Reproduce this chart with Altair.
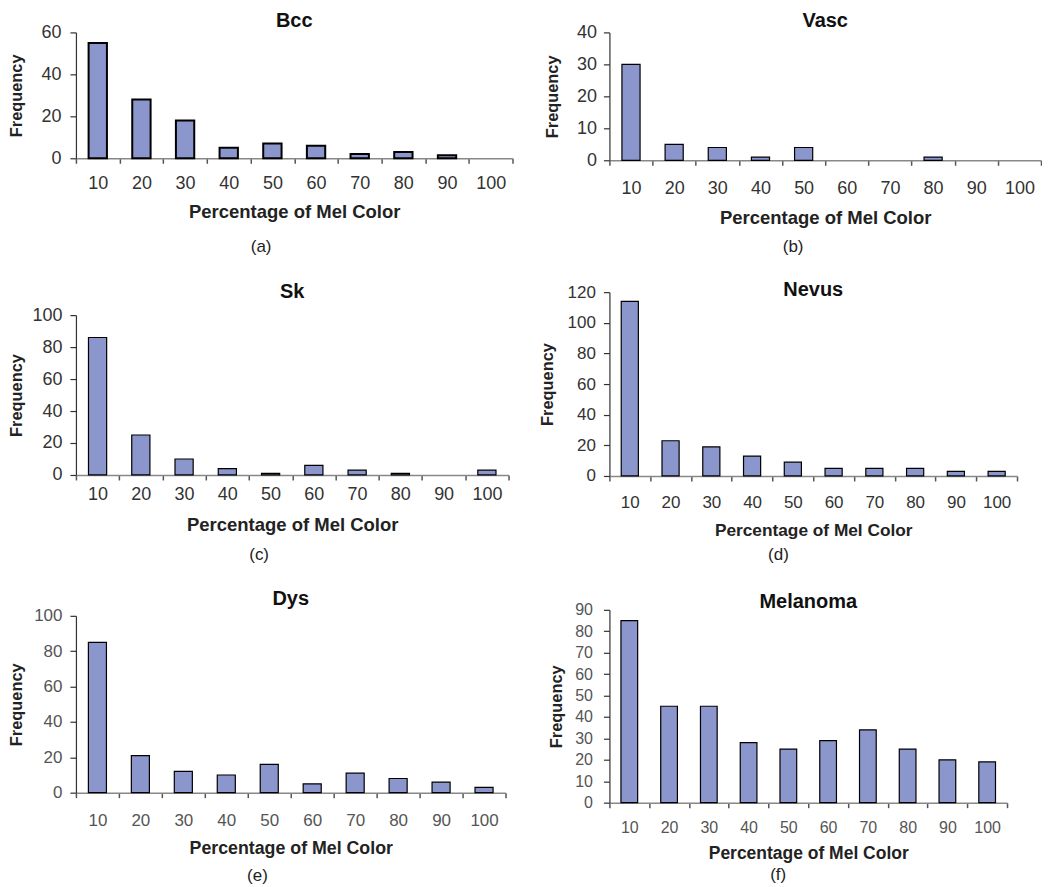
import altair as alt
import pandas as pd

cats = ["10", "20", "30", "40", "50", "60", "70", "80", "90", "100"]
bcc = [55, 28, 18, 5, 7, 6, 2, 3, 1.5, 0]
vasc = [30, 5, 4, 1, 4, 0, 0, 1, 0, 0]
sk = [86, 25, 10, 4, 1, 6, 3, 1, 0, 3]
nevus = [114, 23, 19, 13, 9, 5, 5, 5, 3, 3]
dys = [85, 21, 12, 10, 16, 5, 11, 8, 6, 3]
melanoma = [85, 45, 45, 28, 25, 29, 34, 25, 20, 19]

FONT = "Liberation Sans"
FILL = "#8b96cd"


def panel(title, caption, vals, ymax, ystep, w, h, stroke_w=1.2,
          label_size=18, label_color="#333333", ylab_pad=8, ytitle_pad=12,
          xlab_pad=12, xtitle_size=18.5, xtitle_pad=11, cap_offset=10,
          title_offset=0):
    df = pd.DataFrame({"pct": cats, "freq": vals})
    x = alt.X(
        "pct:N",
        sort=cats,
        scale=alt.Scale(domain=cats, paddingInner=0, paddingOuter=0),
        axis=alt.Axis(
            title="Percentage of Mel Color",
            tickBand="extent",
            labelAngle=0,
            labelFont=FONT,
            labelFontSize=label_size,
            labelColor=label_color,
            labelPadding=xlab_pad,
            titleFont=FONT,
            titleFontSize=xtitle_size,
            titleFontWeight="bold",
            titleColor="#222222",
            titlePadding=xtitle_pad,
            domainColor="#888888",
            domainWidth=1.5,
            tickColor="#555555",
            tickSize=5,
            tickWidth=1.5,
        ),
    )
    y = alt.Y(
        "freq:Q",
        scale=alt.Scale(domain=[0, ymax], nice=False),
        axis=alt.Axis(
            title="Frequency",
            values=list(range(0, ymax + 1, ystep)),
            grid=False,
            labelFont=FONT,
            labelFontSize=label_size,
            labelColor=label_color,
            labelPadding=ylab_pad,
            titleFont=FONT,
            titleFontSize=16.4,
            titleFontWeight="bold",
            titleColor="#222222",
            titlePadding=ytitle_pad,
            domainColor="#333333",
            domainWidth=1.2,
            tickColor="#333333",
            tickSize=6,
            tickWidth=1.2,
        ),
    )
    ch = (
        alt.Chart(df)
        .transform_filter("datum.freq > 0")
        .mark_bar(fill=FILL, stroke="black", strokeWidth=stroke_w,
                  width=alt.RelativeBandSize(0.42))
        .encode(x=x, y=y)
        .properties(
            width=w,
            height=h,
            title=alt.TitleParams(
                title, font=FONT, fontSize=20, fontWeight="bold",
                color="#111111", offset=title_offset, anchor="middle",
            ),
        )
    )
    return alt.vconcat(
        ch,
        title=alt.TitleParams(
            caption, orient="bottom", font=FONT, fontSize=17,
            fontWeight="normal", color="#222222", offset=cap_offset,
            anchor="middle",
        ),
    )


a = panel("Bcc", "(a)", bcc, 60, 20, 437, 126, stroke_w=2,
          ylab_pad=9, ytitle_pad=16, xlab_pad=11, xtitle_pad=10,
          cap_offset=18, title_offset=-8)
b = panel("Vasc", "(b)", vasc, 40, 10, 432, 128,
          ylab_pad=7, ytitle_pad=16, xlab_pad=14, xtitle_pad=11,
          cap_offset=12, title_offset=-8)
c = panel("Sk", "(c)", sk, 100, 20, 433, 160,
          ylab_pad=8, ytitle_pad=7, xlab_pad=6, xtitle_pad=12,
          cap_offset=13, title_offset=4)
d = panel("Nevus", "(d)", nevus, 120, 20, 408, 184, label_size=17,
          ylab_pad=8, ytitle_pad=12, xlab_pad=14, xtitle_size=17.3,
          xtitle_pad=11, cap_offset=8, title_offset=-17)
e = panel("Dys", "(e)", dys, 100, 20, 430, 177, label_size=17,
          label_color="#555555", ylab_pad=8, ytitle_pad=9, xlab_pad=15,
          xtitle_size=17.8, xtitle_pad=11, cap_offset=11, title_offset=-2)
f = panel("Melanoma", "(f)", melanoma, 90, 10, 398, 193, label_size=16,
          label_color="#555555", ylab_pad=11, ytitle_pad=10, xlab_pad=12,
          xtitle_size=17.5, xtitle_pad=9, cap_offset=5, title_offset=-10)

left = alt.vconcat(alt.vconcat(a, c, spacing=27), e, spacing=25)
right = alt.vconcat(alt.vconcat(b, d, spacing=25), f, spacing=28)

chart = (
    alt.hconcat(left, right, spacing=25)
    .properties(padding={"left": 0, "top": 3, "right": 0, "bottom": 0})
    .configure_view(stroke=None)
)

chart.save("out.html", embed_options={"renderer": "svg", "actions": False})
